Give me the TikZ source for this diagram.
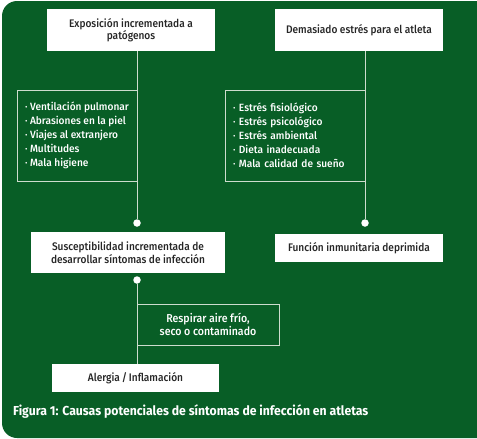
\documentclass[tikz,border=0pt]{standalone}
\usepackage{fontspec}
\setmainfont{Fira Sans}
\newfontfamily\figtitle{Fira Sans Medium}[FakeStretch=0.92]
\newfontfamily\figitem{Fira Sans Medium}[FakeStretch=0.965]
\newfontfamily\figcap{Fira Sans}[FakeStretch=0.94]
\usetikzlibrary{positioning}
\definecolor{figgreen}{RGB}{8,94,38}
\definecolor{figline}{RGB}{205,220,205}
\tikzset{
  figbox/.style={fill=white, text=black!85, align=center, inner sep=0pt,
    font=\figtitle\fontsize{11}{12.5}\selectfont},
  figlist/.style={draw=figline, line width=0.9pt, text=white, align=left,
    inner ysep=0pt, font=\figitem\fontsize{10.5}{14}\selectfont},
  figdot/.style={circle, fill=white, inner sep=0pt, minimum size=7.5pt},
  figlink/.style={draw=figline, line width=1pt},
}

\begin{document}
\begin{tikzpicture}[x=1pt, y=-1pt]
  \useasboundingbox (0,0) rectangle (477,439);
  % fondo verde
  \fill[figgreen] (477,1) [rounded corners=15pt] -- (2,1) -- (2,438) [sharp corners] -- (477,438) -- cycle;
  % causas
  \node[figbox, minimum width=168pt, minimum height=42pt] (expo) at (131,30) {Exposición incrementada a\\ patógenos};
  \node[figbox, minimum width=168pt, minimum height=42pt] (estres) at (359,30) {Demasiado estrés para el atleta};
  \node[figlist, inner xsep=0pt, minimum width=120pt, minimum height=91pt] (listexpo) at (77,135.5)
    {· Ventilación pulmonar\\ · Abrasiones en la piel\\ · Viajes al extranjero\\ · Multitudes\\ · Mala higiene};
  \node[figlist, text width=124pt, inner xsep=8pt, minimum height=91pt] (listestres) at (295,135.5)
    {· Estrés fisiológico\\ · Estrés psicológico\\ · Estrés ambiental\\ · Dieta inadecuada\\ · Mala calidad de sueño};
  \node[figdot] (dexpo) at (137,223) {};
  \node[figdot] (destres) at (365,223) {};
  % efectos
  \node[figbox, minimum width=194pt, minimum height=41pt] (suscep) at (128,252.5) {Susceptibilidad incrementada de\\ desarrollar síntomas de infección};
  \node[figbox, minimum width=168pt, minimum height=28pt] (inmune) at (359,248) {Función inmunitaria deprimida};
  \node[figdot] (dsuscep) at (137,280) {};
  \node[figlist, align=center, inner xsep=0pt, minimum width=142pt, minimum height=41pt,
    font=\figtitle\fontsize{11.5}{13.5}\selectfont] (aire) at (208,324.5) {Respirar aire frío,\\ seco o contaminado};
  \node[figbox, minimum width=167pt, minimum height=28pt] (alergia) at (135.5,378) {Alergia\,/\,Inflamación};
  \draw[figlink] (expo.south -| dexpo) -- (dexpo);
  \draw[figlink] (estres.south -| destres) -- (destres);
  \draw[figlink] (dsuscep) -- (alergia.north -| dsuscep);
  % pie de figura
  \node[anchor=west, text=white, inner sep=0pt, font=\figcap\fontsize{13}{15}\selectfont\bfseries] (caption) at (13,412)
    {Figura 1: Causas potenciales de síntomas de infección en atletas};
\end{tikzpicture}
\end{document}
